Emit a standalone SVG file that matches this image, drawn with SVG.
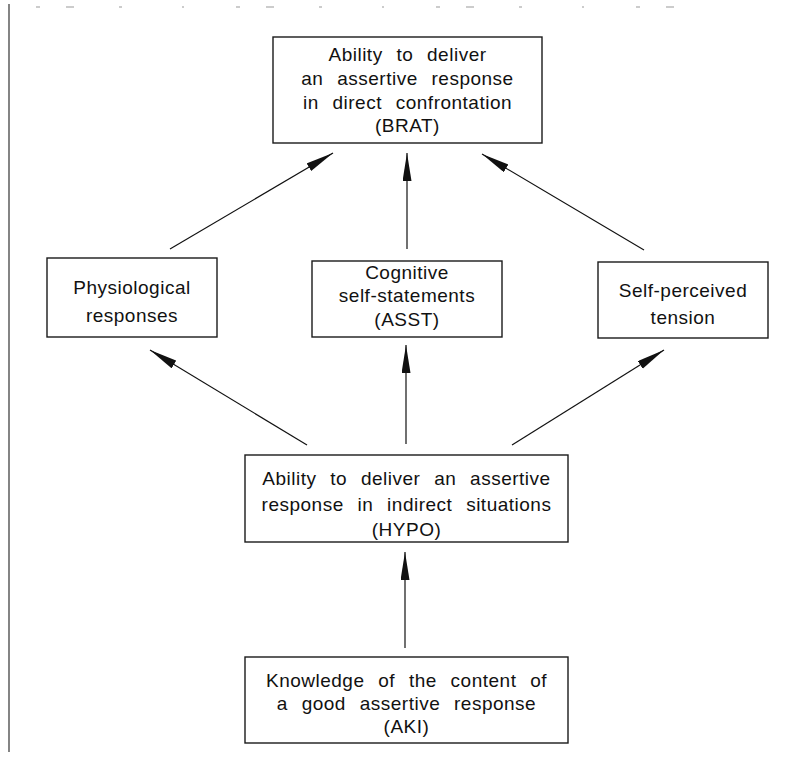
<svg xmlns="http://www.w3.org/2000/svg" width="805" height="760" viewBox="0 0 805 760">
<style>
.box{fill:#fff;stroke:#1a1a1a;stroke-width:1.4}
.t{font-family:"Liberation Sans",Arial,sans-serif;font-size:19px;fill:#111;text-anchor:middle;letter-spacing:0.5px;word-spacing:8px}
.c{stroke:#111;stroke-width:1.2;fill:none;marker-end:url(#ah)}
</style>
<defs>
<marker id="ah" markerUnits="userSpaceOnUse" markerWidth="30" markerHeight="10" refX="28" refY="4.5" orient="auto">
<path d="M0,0 L28,4.5 L0,9 z" fill="#111"/>
</marker>
</defs>
<rect width="805" height="760" fill="#fff"/>
<g id="frame">
<line x1="9" y1="4" x2="9" y2="752" stroke="#333" stroke-width="1.2"/>
<line x1="36" y1="7" x2="680" y2="7" stroke="#999" stroke-width="1.2" stroke-dasharray="4 26 8 45 3 60 2 52"/>
</g>
<g id="connectors">
<line class="c" x1="170" y1="249" x2="333" y2="153"/>
<line class="c" x1="407" y1="249" x2="407" y2="153"/>
<line class="c" x1="644" y1="250" x2="482" y2="154"/>
<line class="c" x1="307" y1="445" x2="150" y2="350"/>
<line class="c" x1="406" y1="444" x2="406" y2="345"/>
<line class="c" x1="512" y1="445" x2="664" y2="350"/>
<line class="c" x1="405" y1="648" x2="405" y2="552"/>
</g>
<g id="brat">
<rect class="box" x="273" y="37" width="269" height="106"/>
<text class="t" x="407.5" y="61">Ability to deliver</text>
<text class="t" x="407.5" y="85">an assertive response</text>
<text class="t" x="407.5" y="109">in direct confrontation</text>
<text class="t" x="407.5" y="132">(BRAT)</text>
</g>
<g id="physio">
<rect class="box" x="47" y="258" width="170" height="79"/>
<text class="t" x="132" y="294">Physiological</text>
<text class="t" x="132" y="322">responses</text>
</g>
<g id="asst">
<rect class="box" x="312" y="261" width="190" height="76"/>
<text class="t" x="407" y="279">Cognitive</text>
<text class="t" x="407" y="302">self-statements</text>
<text class="t" x="407" y="326">(ASST)</text>
</g>
<g id="tension">
<rect class="box" x="598" y="262" width="170" height="76"/>
<text class="t" x="683" y="297">Self-perceived</text>
<text class="t" x="683" y="324">tension</text>
</g>
<g id="hypo">
<rect class="box" x="245" y="455" width="323" height="87"/>
<text class="t" x="406.5" y="485">Ability to deliver an assertive</text>
<text class="t" x="406.5" y="511">response in indirect situations</text>
<text class="t" x="406.5" y="536">(HYPO)</text>
</g>
<g id="aki">
<rect class="box" x="245" y="657" width="323" height="86"/>
<text class="t" x="406.5" y="687">Knowledge of the content of</text>
<text class="t" x="406.5" y="710">a good assertive response</text>
<text class="t" x="406.5" y="733">(AKI)</text>
</g>
</svg>
